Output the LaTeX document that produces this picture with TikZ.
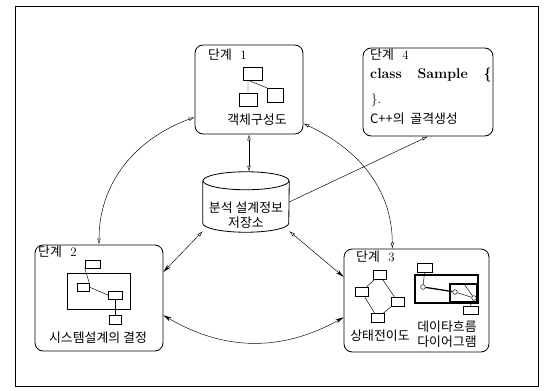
\documentclass[tikz,border=0pt]{standalone}
\usepackage{fontspec}
\newfontfamily\kr{Noto Sans CJK KR}
\usetikzlibrary{arrows.meta,positioning}

\begin{document}
\begin{tikzpicture}[
  x=0.03cm, y=-0.03cm, font=\fontsize{11}{13}\selectfont,
  stage/.style={draw, rounded corners=7pt, line width=0.7pt},
  mini/.style={draw, minimum width=0.39cm, minimum height=0.27cm, inner sep=0pt},
  dot/.style={circle, draw, minimum size=4pt, inner sep=0pt},
  lbl/.style={anchor=west, inner sep=0pt},
  flow/.style={{Stealth[length=7pt,width=3.5pt]}-{Stealth[length=7pt,width=3.5pt]}},
  oflow/.style={{Latex[open,length=5pt,width=3pt]}-{Latex[open,length=5pt,width=3pt]}},
  mixed/.style={{Latex[open,length=5pt,width=3pt]}-{Stealth[length=7pt,width=3.5pt]}},
]
\useasboundingbox (0,0) rectangle (551,391);
\draw[line width=0.8pt] (15,6) rectangle (538,386);

% ---- the four stages and the repository
\node[stage, minimum width=3.24cm, minimum height=2.67cm] (s1) at (249,89.5) {};
\node[stage, minimum width=3.84cm, minimum height=3.18cm] (s2) at (99,298) {};
\node[stage, minimum width=4.35cm, minimum height=3.09cm] (s3) at (416.5,300.5) {};
\node[stage, minimum width=3.9cm, minimum height=2.64cm] (s4) at (428,92) {};
\node[minimum width=2.58cm, minimum height=1.8cm, inner sep=0pt] (repo) at (246,202) {};
\draw[line width=0.7pt] ([yshift=-0.27cm]repo.north) ellipse [x radius=1.29cm, y radius=0.27cm];
\draw[line width=0.7pt] ([yshift=-0.27cm]repo.north west) -- ([yshift=0.27cm]repo.south west)
  arc[start angle=180, end angle=360, x radius=1.29cm, y radius=0.27cm]
  -- ([yshift=-0.27cm]repo.north east);
\node[align=center, inner sep=0pt] (repotxt) at (246,215) {\kr 분석 설계정보\\\kr 저장소};

% ---- stage 1: object structure
\node[lbl] (t1) at (208,55) {{\kr 단계}~~1};
\node[mini, minimum width=0.57cm, minimum height=0.39cm] (a1) at (252.5,73.5) {};
\node[mini, minimum width=0.54cm, minimum height=0.39cm] (b1) at (248,99.5) {};
\node[mini, minimum width=0.48cm, minimum height=0.42cm] (c1) at (275,95) {};
\draw (b1.north) -- (b1.north |- a1.south) -- (c1.north west);
\node (n1) at (257,120) {\kr 객체구성도};

% ---- stage 2: system design
\node[lbl] (t2) at (38,252) {{\kr 단계}~~2};
\node[mini, minimum width=0.45cm, minimum height=0.24cm] (a2) at (92.5,264) {};
\node[draw, minimum width=1.89cm, minimum height=1.08cm, inner sep=0pt] (g2) at (98.5,291) {};
\node[mini, minimum width=0.36cm, minimum height=0.24cm] (b2) at (83,287) {};
\node[mini, minimum width=0.42cm, minimum height=0.24cm] (c2) at (115,295) {};
\node[mini, minimum width=0.36cm, minimum height=0.27cm] (d2) at (115,320) {};
\draw (a2.south west) -- (b2.north east);
\draw (b2.east) -- (c2.west);
\draw (c2.south) -- (d2.north);
\node (n2) at (98,338) {\kr 시스템설계의 결정};

% ---- stage 3: state transitions and data flow
\node[lbl] (t3) at (356,257) {{\kr 단계}~~3};
\node[mini] (q1) at (379.5,275) {};
\node[mini] (q2) at (361.5,291.5) {};
\node[mini] (q3) at (397.5,301.5) {};
\node[mini] (q4) at (377.5,318) {};
\draw (q1) -- (q2); \draw (q1) -- (q3);
\draw (q2) -- (q4); \draw (q3) -- (q4);
\node[mini, minimum width=0.45cm] (e1) at (424.5,267.5) {};
\node[draw, line width=1.1pt, minimum width=1.89cm, minimum height=0.84cm, inner sep=0pt] (f1) at (446.5,289) {};
\node[draw, line width=1.1pt, minimum width=0.81cm, minimum height=0.54cm, inner sep=0pt] (f2) at (463.5,293) {};
\node[mini, minimum width=0.45cm, minimum height=0.24cm] (e2) at (470.5,310) {};
\node[dot] (p1) at (423,287) {};
\node[dot] (p2) at (455,292) {};
\node[dot] (p3) at (474,298) {};
\draw (e1.south) -- (p1);
\draw[line width=1.1pt] (p1) -- (p2);
\draw (p2) -- (p3);
\draw (f2.north) -- (p3);
\draw (p3) -- (e2.north);
\node (n3) at (380,336) {\kr 상태전이도};
\node[align=center, inner sep=0pt] (n3b) at (447,334.5) {\kr 데이타흐름\\\kr 다이어그램};

% ---- stage 4: C++ skeleton
\node[lbl] (t4) at (370,55) {{\kr 단계}~~4};
\node[lbl] (k1) at (370,75) {\fontsize{12}{14}\selectfont\bfseries class~~~Sample~~~\{};
\node[lbl] (k2) at (371,100) {\}.};
\node[lbl] (n4) at (370,119) {\kr C++의~~골격생성};

% ---- connectors
\draw[oflow] (s1.south) -- (s1.south |- repo.north);
\draw[-{Latex[open,length=5pt,width=3pt]}] (repo.east) -- (s4.south);
\draw[oflow] (s2.north) to[out=90, in=200] (s1.207);
\draw[oflow] (s1.-32) to[out=-25, in=90] (s3.115);
\draw[flow] (s2.-15) to[bend right=30] (s3.193);
\draw[mixed] (repo.214) -- (s2.22);
\draw[mixed] (repo.-34) -- (s3.162);
\end{tikzpicture}
\end{document}
